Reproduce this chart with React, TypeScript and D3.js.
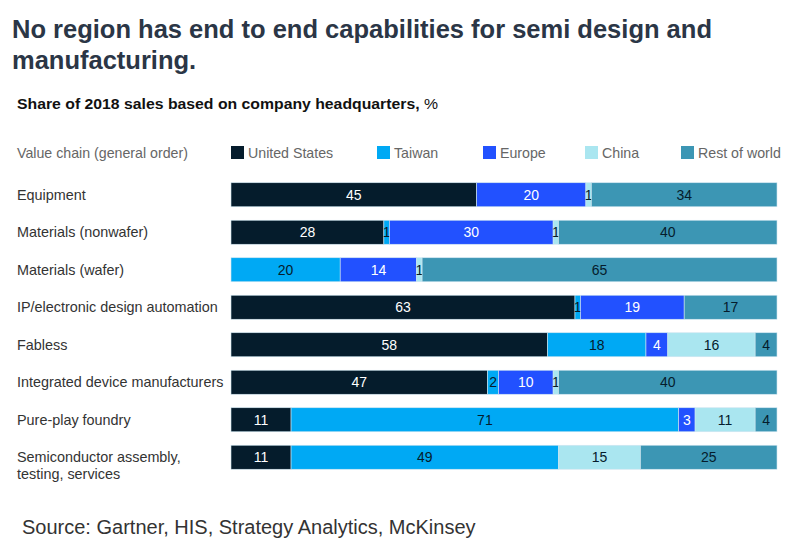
import React from "react";
import * as d3 from "d3";

const categories = [
  "Equipment",
  "Materials (nonwafer)",
  "Materials (wafer)",
  "IP/electronic design automation",
  "Fabless",
  "Integrated device manufacturers",
  "Pure-play foundry",
  "Semiconductor assembly,\ntesting, services",
];
const seriesNames = ["United States", "Taiwan", "Europe", "China", "Rest of world"];
const unitedStates = [45, 28, 0, 63, 58, 47, 11, 11];
const taiwan = [0, 1, 20, 1, 18, 2, 71, 49];
const europe = [20, 30, 14, 19, 4, 10, 3, 0];
const china = [1, 1, 1, 0, 16, 1, 11, 15];
const restOfWorld = [34, 40, 65, 17, 4, 40, 4, 25];

const colors = ["#051C2C", "#00A9F4", "#2251FF", "#AAE6F0", "#3C96B4"];
const labelColors = ["#ffffff", "#051C2C", "#ffffff", "#051C2C", "#051C2C"];

export default function App() {
  const W = 810, H = 542;
  const series = [unitedStates, taiwan, europe, china, restOfWorld];
  const rows = categories.map((c, i) => {
    const r: any = { cat: c };
    seriesNames.forEach((s, j) => (r[s] = series[j][i]));
    return r;
  });
  const stacked = d3.stack<any>().keys(seriesNames)(rows);
  const x = d3.scaleLinear().domain([0, 100]).range([231, 777]);
  const y = d3.scaleBand().domain(categories).range([176, 476]).paddingInner(0.36).paddingOuter(0.18);
  const font = "Liberation Sans, Arial, sans-serif";
  const legendX = [231, 377, 483, 585, 681];

  return (
    <svg width={W} height={H} style={{ position: "absolute", left: 0, top: 0, background: "#fff" }} fontFamily={font}>
      <text x={12} y={38} fontSize={25.5} fontWeight="bold" fill="#2B3646">
        No region has end to end capabilities for semi design and
      </text>
      <text x={12} y={69} fontSize={25.5} fontWeight="bold" fill="#2B3646">
        manufacturing.
      </text>
      <text x={17} y={109} fontSize={15} fill="#111" textLength={421} lengthAdjust="spacingAndGlyphs">
        <tspan fontWeight="bold">Share of 2018 sales based on company headquarters, </tspan>
        <tspan>%</tspan>
      </text>
      <text x={17} y={158} fontSize={14.2} fill="#666">Value chain (general order)</text>
      {seriesNames.map((s, j) => (
        <g key={s}>
          <rect x={legendX[j]} y={146} width={13} height={13} fill={colors[j]} />
          <text x={legendX[j] + 17} y={158} fontSize={14.2} fill="#666">{s}</text>
        </g>
      ))}
      {categories.map((c) => {
        const lines = c.split("\n");
        const cy = (y(c) as number) + y.bandwidth() / 2;
        const y0 = cy + 5;
        return (
          <text key={c} x={17} fontSize={14.4} fill="#333">
            {lines.map((l, k) => (
              <tspan key={k} x={17} y={y0 + k * 17}>{l}</tspan>
            ))}
          </text>
        );
      })}
      {stacked.map((layer, j) => (
        <g key={layer.key}>
          {layer.map((d, i) => {
            const v = d[1] - d[0];
            if (v <= 0) return null;
            const cat = categories[i];
            const x0 = x(d[0]), x1 = x(d[1]);
            const by = y(cat) as number;
            return (
              <g key={i}>
                <rect x={x0} y={by} width={x1 - x0} height={y.bandwidth()} fill={colors[j]} stroke="#cfe6f0" strokeWidth={0.6} />
                <text x={(x0 + x1) / 2} y={by + y.bandwidth() / 2 + 5} textAnchor="middle" fontSize={14} fill={labelColors[j]}>
                  {v}
                </text>
              </g>
            );
          })}
        </g>
      ))}
      <text x={22} y={534} fontSize={20} fill="#333">Source: Gartner, HIS, Strategy Analytics, McKinsey</text>
    </svg>
  );
}
